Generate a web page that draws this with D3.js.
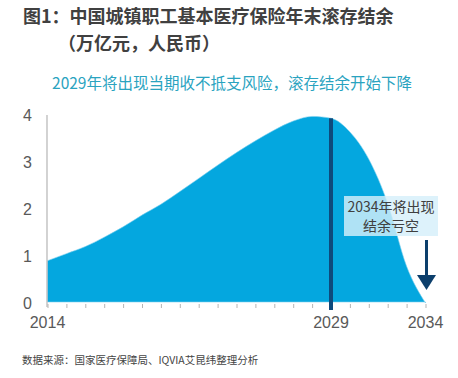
<!DOCTYPE html>
<html><head><meta charset="utf-8">
<script src="https://cdn.jsdelivr.net/npm/d3@7"></script>
<style>
html,body{margin:0;padding:0;background:#fff;}
svg{display:block;font-family:"Noto Sans CJK SC","Liberation Sans",sans-serif;}
</style></head>
<body><svg id="c" width="458" height="378"></svg>
<script>
const years = [2014,2015,2016,2017,2018,2019,2020,2021,2022,2023,2024,2025,2026,2027,2028,2029,2030,2031,2032,2033,2034];
const balance = [0.9,1.05,1.2,1.4,1.62,1.87,2.1,2.37,2.65,2.93,3.2,3.45,3.68,3.87,3.97,3.93,3.64,3.06,2.12,0.78,0];
const yTicks = [0,1,2,3,4];
const xLabels = [2014,2029,2034];
const title1 = "图1：中国城镇职工基本医疗保险年末滚存结余";
const title2 = "（万亿元，人民币）";
const subtitle = "2029年将出现当期收不抵支风险，滚存结余开始下降";
const note = ["2034年将出现","结余亏空"];
const source = "数据来源：国家医疗保障局、IQVIA艾昆纬整理分析";
const markYear = 2029;

const svg = d3.select("#c");
const x = d3.scaleLinear().domain([2014,2034]).range([47.5,425.5]);
const y = d3.scaleLinear().domain([0,4]).range([303,115]);

// titles
svg.append("text").attr("x",23).attr("y",23).attr("font-size",18).attr("font-weight","bold").attr("fill","#404040").text(title1);
svg.append("text").attr("x",58).attr("y",50).attr("font-size",18).attr("font-weight","bold").attr("fill","#404040").text(title2);
svg.append("text").attr("x",232).attr("y",89).attr("text-anchor","middle").attr("font-size",15.5).attr("fill","#2aa3bf").text(subtitle);

// area
const area = d3.area().x((d,i)=>x(years[i])).y0(y(0)-1).y1(d=>y(d)).curve(d3.curveMonotoneX);
svg.append("path").datum(balance).attr("d",area).attr("fill","#04a7df").attr("stroke","#7fd0ee").attr("stroke-width",0.6);

// y axis line
svg.append("line").attr("x1",x(2014)-0.5).attr("x2",x(2014)-0.5).attr("y1",y(4)).attr("y2",y(0)+4).attr("stroke","#b5b5b5").attr("stroke-width",1.2);

// x ticks
const xAxis = d3.axisBottom(x).tickValues(years).tickSize(4).tickFormat("");
const gx = svg.append("g").attr("transform",`translate(0,${y(0)+1})`).call(xAxis);
gx.select(".domain").remove();
gx.selectAll(".tick line").attr("stroke","#b5b5b5");

// x labels
svg.selectAll(".xl").data(xLabels).join("text").attr("class","xl")
  .attr("x",d=>x(d)).attr("y",328).attr("text-anchor","middle")
  .attr("font-size",16).attr("fill","#595959").attr("font-family","Liberation Sans, Arial, sans-serif").text(d=>d);

// y labels
const yAxis = d3.axisLeft(y).tickValues(yTicks).tickSize(0).tickPadding(0).tickFormat(d3.format("d"));
const gy = svg.append("g").attr("transform",`translate(32,0)`).call(yAxis);
gy.select(".domain").remove();
gy.selectAll("text").attr("font-size",16).attr("fill","#595959").attr("font-family","Liberation Sans, Arial, sans-serif").attr("dy","0.35em");

// marker line
svg.append("line").attr("x1",x(markYear)).attr("x2",x(markYear)).attr("y1",y(3.93)).attr("y2",y(0)+7)
  .attr("stroke","#0e4a7c").attr("stroke-width",4);

// annotation box
svg.append("rect").attr("x",344).attr("y",196).attr("width",94).attr("height",40).attr("fill","#d6effa").attr("opacity",0.82);
svg.selectAll(".nt").data(note).join("text").attr("class","nt")
  .attr("x",391).attr("y",(d,i)=>212+i*18.5).attr("text-anchor","middle")
  .attr("font-size",14).attr("fill","#404040").text(d=>d);

// arrow
svg.append("line").attr("x1",426.5).attr("x2",426.5).attr("y1",240).attr("y2",277).attr("stroke","#0c3f6c").attr("stroke-width",3);
svg.append("path").attr("d","M417,275 L436,275 L426.5,290 Z").attr("fill","#0c3f6c");

// source
svg.append("text").attr("x",22).attr("y",364).attr("font-size",10.5).attr("fill","#444").text(source);
</script></body></html>
